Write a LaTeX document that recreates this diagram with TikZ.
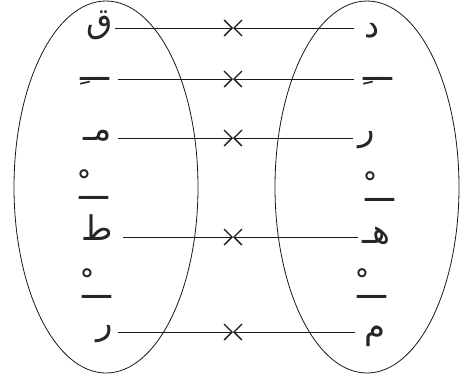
\documentclass[tikz,border=0pt]{standalone}
\usepackage{fontspec}
\newfontfamily\arabicfont[Script=Arabic]{DejaVu Sans}
\TeXXeTstate=1
\usetikzlibrary{arrows.meta}
\tikzset{
  oval/.style={draw=black!90, line width=0.8pt},
  ltr/.style={inner sep=0pt, text=black!85, font=\arabicfont\fontsize{34}{40}\selectfont},
  lcol/.style={ltr, anchor=base east},
  rcol/.style={ltr, anchor=base west},
  mcol/.style={ltr, anchor=base},
  arr/.style={draw=black!90, line width=0.8pt, -{Straight Barb[length=8pt,width=16pt,line width=1.3pt]}},
}
\begin{document}
\begin{tikzpicture}[x=1pt,y=-1pt]
\useasboundingbox (0,0) rectangle (465,381);
% ovals
\draw[oval] (106,187) ellipse [x radius=92, y radius=186];
\draw[oval] (367,187) ellipse [x radius=92, y radius=186];
% left column
\node[lcol] (l1) at (113,32) {\beginR ق\endR};
\node[mcol] (l2) at (95,80) {\beginR ـــِ\endR};
\node[lcol] (l3) at (112,140) {\beginR مـ\endR};
\node[mcol] (l4) at (94,199) {\beginR ـــْ\endR};
\node[lcol] (l5) at (113,240) {\beginR ط\endR};
\node[mcol] (l6) at (97,298) {\beginR ـــْ\endR};
\node[lcol] (l7) at (113,334) {\beginR ر\endR};
% right column
\node[rcol] (r1) at (364,37) {\beginR د\endR};
\node[mcol] (r2) at (378,80) {\beginR ـــِ\endR};
\node[rcol] (r3) at (358,140) {\beginR ر\endR};
\node[mcol] (r4) at (380,201) {\beginR ـــْ\endR};
\node[rcol] (r5) at (362,243) {\beginR هـ\endR};
\node[mcol] (r6) at (372,298) {\beginR ـــْ\endR};
\node[rcol] (r7) at (364,338) {\beginR م\endR};
% meeting points
\coordinate (m1) at (233,28);
\coordinate (m2) at (233,79);
\coordinate (m3) at (233,138);
\coordinate (m5) at (233,237);
\coordinate (m7) at (233,332);
% connectors
\draw[arr] (l1.east |- m1) ++(2,0) -- (m1);
\draw[arr] (l2.east |- m2) ++(8,0) -- (m2);
\draw[arr] (l3.east |- m3) ++(6,0) -- (m3);
\draw[arr] (l5.east |- m5) ++(10,0) -- (m5);
\draw[arr] (l7.east |- m7) ++(5,0) -- (m7);
\draw[arr] (r1.west |- m1) ++(-10,0) -- (m1);
\draw[arr] (r2.west |- m2) ++(-9,0) -- (m2);
\draw[arr] (r3.west |- m3) ++(-5,0) -- (m3);
\draw[arr] (r5.west |- m5) ++(-4,0) -- (m5);
\draw[arr] (r7.west |- m7) ++(-9,0) -- (m7);
\end{tikzpicture}
\end{document}
